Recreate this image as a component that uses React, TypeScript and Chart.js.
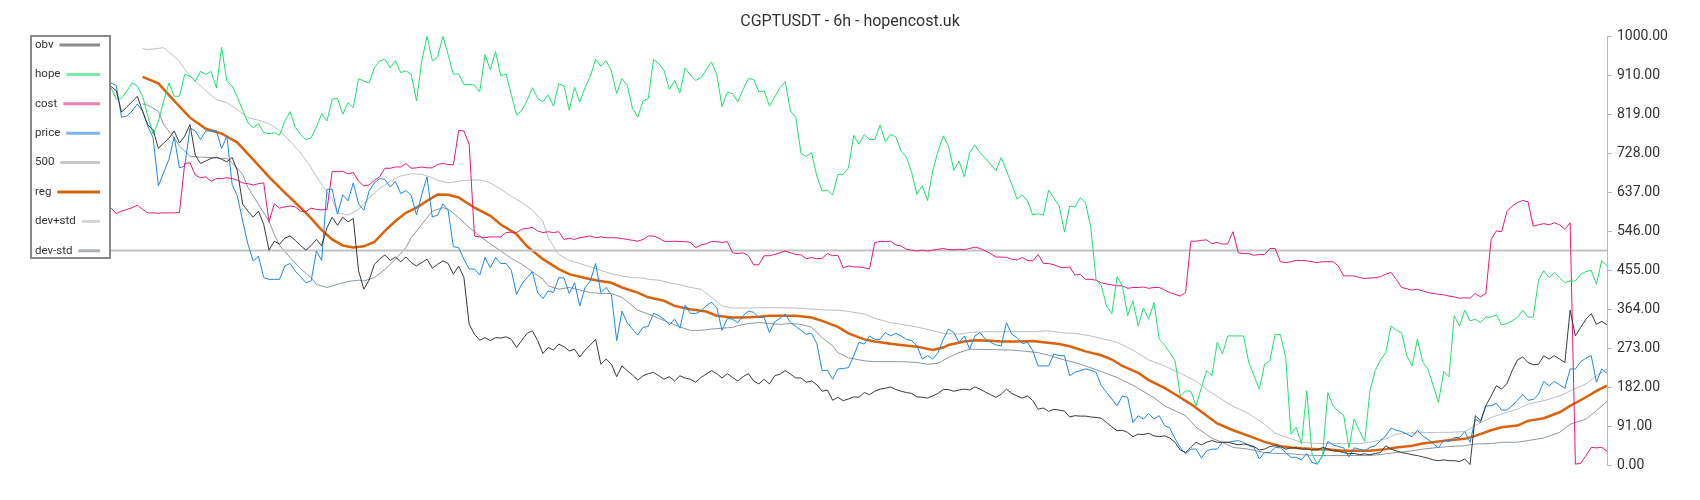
import React, { useEffect, useRef } from 'react';
import { Chart, registerables } from 'chart.js';

Chart.register(...registerables);

const TITLE = 'CGPTUSDT - 6h - hopencost.uk';

const yTickLabels = ['0.00', '91.00', '182.00', '273.00', '364.00', '455.00', '546.00', '637.00', '728.00', '819.00', '910.00', '1000.00'];

const refLevel = 500;

const obv = [
  883, 873, 823, 835, 847, 860, 825, 793, 782, 738, 751, 762, 779, 751, 767, 794, 723, 703, 709, 715, 718, 713, 707, 717, 686, 608, 592, 578, 592, 561, 501, 522, 515,
  529, 534, 524, 512, 501, 512, 526, 511, 553, 578, 559, 578, 567, 575, 453, 410, 431, 468, 480, 490, 477, 485, 474, 485, 472, 464, 472, 480, 459, 468, 476, 470,
  445, 464, 437, 328, 305, 291, 297, 290, 297, 296, 299, 293, 274, 291, 307, 313, 290, 260, 274, 268,
  282, 276, 266, 270, 252, 268, 280, 293, 235, 247, 235, 206, 231, 220, 210, 198, 208, 213, 216, 208,
  200, 206, 196, 208, 203, 200, 193, 204, 212, 220, 213, 203, 213, 204, 196, 206, 213, 196, 189, 200,
  189, 208, 212, 220, 212, 203, 203, 193, 196, 187, 172, 175, 151, 158, 150, 154,
  159, 158, 169, 164, 172, 177, 179, 182, 176, 172, 169, 167, 159, 158, 156, 161, 167, 176, 176, 172, 175, 177, 175, 182, 177, 170, 164, 158, 165,
  177, 167, 161, 156, 161, 150, 130, 133, 125, 130, 128, 126, 112, 115, 114, 114, 112, 111, 109, 99, 89, 80, 81, 76, 66, 72, 71, 74, 68, 66,
  68, 63, 53, 35, 29, 41, 53, 47, 53, 57, 53, 53, 53, 50, 47, 49, 47, 43,
  35, 37, 43, 45, 43, 37, 40, 40, 37, 37, 35, 35, 41, 38, 33, 32, 29, 26, 27, 24, 26, 24, 27, 29, 45, 37, 33, 29, 27, 24,
  22, 19, 16, 12, 10, 12, 10, 10, 8, 14, 1, 115, 103, 138, 161, 185, 177, 190, 220, 245, 252, 239, 234, 235, 255, 247, 255, 247, 239, 361,
  301, 321, 340, 353, 328, 335, 327,
];

const hope = [
  880, 853, 855, 872, 891, 884, 860, 814, 771, 802, 849, 891, 860, 860, 911, 907, 895, 918, 911, 918, 880, 974, 895, 884, 858, 827, 798, 787, 796, 775,
  773, 775, 769, 802, 824, 787, 771, 759, 763, 788, 819, 802, 853, 855, 818, 845, 833, 901, 895, 891, 926, 942, 946, 926, 943, 915, 919, 911, 849, 942,
  1000, 943, 951, 1000, 957, 911, 912, 887, 887, 886, 870, 957, 922,
  964, 907, 912, 864, 816, 827, 850, 880, 855, 847, 863, 837, 889, 884, 827, 881, 847, 880, 907, 946,
  930, 943, 919, 866, 901, 886, 832, 811, 849, 855, 946, 936, 920, 876, 897, 868, 926, 909, 897, 903,
  922, 940, 911, 835, 870, 866, 847, 876, 901, 899, 870, 873, 837, 858, 880, 894, 825, 811, 726, 720,
  728, 674, 639, 641, 630, 678, 678, 693,
  769, 748, 771, 759, 759, 793, 754, 771, 765, 732, 718, 682, 631, 651, 617, 686, 732, 767, 744, 687,
  709, 672, 728, 746, 728, 715, 701, 686, 717, 686, 655, 620, 630, 616, 583, 586, 583, 641, 622, 604,
  544, 604, 602, 623, 612, 554, 433, 418, 371, 353, 439, 418, 348, 383, 324, 366, 340, 379, 293, 280,
  262, 243, 161, 173, 172, 138, 181, 220, 208, 286, 259, 301, 301, 301,
  301, 239, 208,
  177, 235, 243, 305, 304, 251, 72, 88, 49, 173, 26, 2, 22, 169, 138, 125, 117, 40, 107, 80,
  55, 173, 220, 245, 262, 324, 314, 309, 255, 231, 293, 241, 224, 185, 146, 218, 206, 348, 324, 361,
  336, 340, 332, 345, 345, 350, 327, 330, 336, 344, 361, 345, 345, 431, 453, 437, 449, 437, 425, 429,
  429, 445, 451, 454, 422, 477, 464,
];

const cost = [
  600, 586, 592, 596, 600, 606, 596, 588, 588, 587, 588, 588, 588, 589, 703, 705, 676, 670, 672, 662, 668, 668, 670, 668, 664, 658, 656, 653, 656, 658,
  567, 609, 599, 602, 604, 602, 592, 591, 599, 596, 595, 596,
  685, 684, 685, 679, 682, 662, 651, 653, 664, 672, 692, 692, 695, 695, 703, 692, 693, 695, 693, 693, 701, 703, 701, 700,
  780, 779, 748, 534, 532, 530, 532, 532, 532, 542, 543, 542, 550, 552, 554, 546, 542, 544, 542, 544,
  526, 529, 526, 530, 532, 534, 530, 532, 530, 530, 530, 528, 526, 524, 522, 526, 534, 534, 529, 522,
  521, 522, 521, 521, 519, 507, 513, 516, 521, 521, 519, 521, 495, 493, 495, 488, 467, 467, 488, 488,
  491, 495, 499, 495, 491, 490, 481, 484, 481, 482, 493, 488, 489, 460, 464,
  462, 462, 460, 457, 519, 521, 521, 522, 513, 511, 503, 501, 499, 501, 499, 501, 503, 505, 502, 502,
  503, 502, 505, 508, 505, 499, 493, 485, 485, 484, 480, 478, 484, 477, 476, 491, 470, 470, 467, 462,
  460, 462, 443, 445, 433, 433, 431, 425, 422, 420, 418, 418, 412, 414, 414, 415, 412, 414, 414, 408,
  402, 398, 394, 402, 522, 522, 524, 525, 516, 519, 515, 516, 544, 495, 493, 493,
  489, 491, 491, 505, 505, 474, 472, 474, 477, 477, 476, 474, 472, 474, 474, 474, 464, 441, 441, 441,
  437, 435, 436, 437, 439, 445, 449, 433, 414, 411, 408, 410, 406, 402, 400, 398, 397, 394, 392, 389,
  390, 389, 400, 392, 400, 526, 546, 544, 591, 604, 612, 617, 614, 557, 560, 563, 560, 565, 560, 550,
  565, 2, 4, 22, 41, 40, 41, 32,
];

const price = [
  891, 885, 811, 814, 825, 842, 825, 790, 763, 651, 682, 713, 765, 693, 697, 786, 779, 759, 779, 779, 780, 738, 767, 654, 627, 569, 515, 476, 487, 437,
  433, 433, 433,
  464, 470, 452, 439, 425, 429, 499, 477, 643, 643, 585, 630, 616, 658, 609, 594, 639, 658, 668, 666, 648, 661, 633, 640, 629, 583, 631, 672, 578, 583,
  609, 594,
  509, 507, 480, 457, 457, 443, 484, 460, 484, 470, 470, 454, 398, 422, 437, 451, 402, 388, 406, 402,
  437, 436, 400, 425, 371, 414, 429, 470, 402, 414, 397, 290, 359, 332, 317, 303, 321, 323, 354, 348,
  340, 327, 340, 319, 373, 354, 353, 359, 371, 380, 367, 314, 342, 340, 332, 348, 359, 356, 344, 344,
  309, 334, 342, 352, 332, 323, 314, 305, 307, 283, 220, 221, 200, 224, 225, 227,
  255,
  286, 282, 301, 293, 293, 309, 301, 307, 301, 293, 290, 278, 247, 255, 247, 262, 293, 317, 309, 286,
  301, 270, 301, 309, 293, 286, 280, 278, 332, 305, 297, 283, 286, 266, 231, 231, 231, 259, 255, 255,
  208, 216, 220, 224, 221, 216, 185, 169, 154, 138, 161, 158, 99, 115, 107, 120, 107, 115, 92, 86,
  61, 41, 26, 37, 37, 16, 33, 37, 37, 53, 53, 55, 57, 53, 45, 41,
  14, 29, 29, 41, 40, 29, 18, 18, 12, 27, 6, 2, 22, 55, 47, 43, 40, 19, 40, 37,
  33, 41, 45, 57, 68, 86, 81, 78, 72, 66, 81, 68, 60, 50, 40, 58, 55, 64, 64, 78,
  53, 107, 99, 138, 138, 144, 128, 128, 138, 151, 164, 151, 153, 165, 195, 185, 195, 187, 179, 224,
  224, 241, 249, 255, 193, 224, 214,
];

// [index, value] readings of the smooth curves
const reg = [
  [6, 905], [9, 890], [12, 849], [15, 810], [18, 784], [21, 773], [24, 752], [27, 712], [30, 672], [33, 635], [36, 600], [38, 575], [40, 548],
  [42, 526], [44, 512], [46, 507], [48, 510], [50, 520], [52, 546], [54, 569], [56, 588], [58, 600], [60, 616], [62, 631], [64, 630], [66, 624],
  [69, 600], [72, 581], [74, 561], [77, 538], [79, 510], [82, 480], [85, 457], [87, 445], [90, 436], [92, 431], [95, 425], [97, 414], [100, 402],
  [102, 391], [105, 383], [107, 371], [110, 363], [113, 358], [115, 348], [118, 344], [120, 344], [123, 346], [125, 348], [128, 348], [130, 348],
  [133, 344], [135, 336], [138, 322], [140, 307], [143, 293], [145, 288], [148, 283], [150, 280], [153, 276], [156, 268], [158, 274], [159, 280],
  [162, 288], [164, 291], [167, 290], [169, 288], [172, 288], [175, 289], [177, 286], [180, 282], [182, 277], [185, 265], [188, 256], [190, 246],
  [192, 231], [195, 215], [197, 198], [200, 180], [202, 165], [205, 142], [207, 124], [210, 97], [213, 81], [216, 68], [219, 54], [222, 44],
  [224, 41], [226, 39], [229, 37], [231, 36], [234, 33], [237, 33], [239, 33], [242, 37], [244, 41], [247, 45], [249, 50], [252, 55], [254, 58],
  [257, 61], [259, 68], [262, 81], [264, 88], [267, 92], [269, 103], [272, 109], [275, 123], [277, 138], [280, 158], [282, 173], [284, 185],
];

const devPlus = [
  [6, 971], [7, 969], [10, 973], [11, 963], [13, 942], [14, 922], [16, 895], [18, 873], [20, 852], [22, 845], [24, 829], [26, 810], [28, 804],
  [30, 796], [32, 780], [34, 755], [36, 728], [38, 693], [40, 654], [42, 620], [43, 588], [45, 583], [47, 596], [49, 623], [51, 645], [53, 662],
  [55, 674], [57, 679], [59, 678], [61, 670], [62, 664], [64, 658], [66, 662], [68, 664], [70, 665], [72, 658], [74, 643], [76, 627], [78, 612],
  [80, 594], [82, 569], [83, 530], [85, 491], [87, 477], [89, 470], [91, 462], [93, 454], [95, 446], [97, 441], [99, 437], [101, 436], [102, 433],
  [104, 431], [106, 425], [108, 420], [110, 414], [112, 410], [114, 391], [116, 371], [118, 366], [120, 366], [125, 367], [130, 366], [135, 362],
  [138, 361], [140, 358], [143, 352], [145, 342], [148, 332], [150, 328], [153, 322], [156, 313], [158, 307], [161, 305], [163, 309], [166, 311],
  [175, 311], [178, 313], [181, 308], [183, 307], [186, 301], [188, 295], [191, 286], [194, 268], [197, 245], [200, 231], [203, 214], [206, 195],
  [209, 168], [211, 152], [213, 137], [216, 120], [219, 95], [221, 74], [224, 61], [226, 53], [229, 50], [234, 50], [237, 50], [239, 53], [242, 61],
  [244, 72], [247, 75], [252, 76], [254, 76], [257, 78], [259, 92], [262, 111], [264, 119], [267, 130], [269, 142], [272, 150], [275, 161],
  [277, 173], [280, 189], [282, 208], [284, 224],
];

const devMinus = [
  [6, 842], [7, 839], [9, 825], [10, 794], [12, 763], [13, 744], [15, 720], [17, 718], [19, 717], [21, 715], [22, 715], [23, 705], [25, 678],
  [26, 647], [28, 608], [30, 569], [31, 538], [32, 512], [34, 484], [36, 458], [38, 437], [39, 421], [41, 414], [43, 421], [45, 428], [47, 431],
  [48, 429], [50, 437], [52, 456], [54, 480], [56, 507], [57, 530], [59, 561], [61, 592], [63, 600], [64, 597], [66, 577], [68, 554], [70, 534],
  [72, 516], [74, 499], [76, 482], [78, 468], [80, 451], [82, 433], [83, 418], [85, 410], [87, 414], [89, 408], [91, 402], [93, 400], [95, 400],
  [97, 391], [99, 371], [100, 361], [102, 352], [104, 342], [106, 332], [108, 322], [110, 314], [112, 314], [114, 317], [116, 319], [118, 321],
  [119, 325], [121, 330], [123, 332], [125, 330], [127, 328], [129, 330], [131, 328], [133, 321], [135, 297], [137, 278], [138, 262], [140, 250],
  [143, 243], [145, 241], [150, 241], [153, 239], [155, 235], [157, 237], [159, 251], [161, 262], [163, 270], [168, 269], [171, 268], [173, 266],
  [176, 262], [178, 256], [181, 245], [183, 239], [185, 231], [188, 218], [191, 204], [194, 186], [198, 157], [200, 138], [204, 115], [206, 88],
  [209, 62], [211, 53], [213, 41], [216, 37], [219, 29], [221, 27], [224, 26], [226, 24], [229, 22], [239, 22], [242, 26], [244, 29], [247, 33],
  [249, 37], [252, 41], [254, 43], [257, 45], [259, 49], [262, 50], [264, 53], [267, 53], [269, 57], [272, 63], [275, 76], [277, 95], [280, 107],
  [282, 127], [284, 148],
];

const lastIndex = price.length - 1;

const fromValues = (arr: number[]) => arr.map((v, i) => ({ x: i, y: v }));
const fromPairs = (arr: number[][]) => arr.map(([x, y]) => ({ x, y }));

const legendPlugin = {
  id: 'boxLegend',
  afterDraw(chart: any) {
    const ctx = chart.ctx;
    const left = 22;
    const top = 27;
    const w = 81;
    const h = 224;
    ctx.save();
    ctx.fillStyle = '#ffffff';
    ctx.fillRect(left, top, w, h);
    ctx.strokeStyle = '#888888';
    ctx.lineWidth = 2;
    ctx.strokeRect(left + 1, top + 1, w - 2, h - 2);
    ctx.font = '11.5px Roboto';
    ctx.textBaseline = 'middle';
    ctx.textAlign = 'left';
    chart.data.datasets.forEach((ds: any, k: number) => {
      const y = top + 10 + k * 29.4;
      ctx.fillStyle = '#333333';
      ctx.fillText(ds.label, left + 5, y);
      const tw = ctx.measureText(ds.label).width;
      ctx.strokeStyle = ds.legendColor;
      ctx.lineWidth = 3;
      ctx.beginPath();
      ctx.moveTo(left + 5 + tw + 6, y);
      ctx.lineTo(left + 70, y);
      ctx.stroke();
    });
    ctx.restore();
  },
};

export default function App() {
  const ref = useRef<HTMLCanvasElement | null>(null);

  useEffect(() => {
    if (!ref.current) return;
    Chart.defaults.font.family = 'Roboto';
    const axisColor = '#b3bbc1';
    const chart = new Chart(ref.current, {
      type: 'line',
      data: {
        datasets: [
          { label: 'obv', data: fromValues(obv), borderColor: '#3a3a3a', legendColor: '#8c8c8c', borderWidth: 1 } as any,
          { label: 'hope', data: fromValues(hope), borderColor: '#1fe070', legendColor: '#80e9a8', borderWidth: 1 } as any,
          { label: 'cost', data: fromValues(cost), borderColor: '#e8197c', legendColor: '#ee7eb3', borderWidth: 1 } as any,
          { label: 'price', data: fromValues(price), borderColor: '#1e88e5', legendColor: '#7db6ee', borderWidth: 1 } as any,
          { label: '500', data: [{ x: 0, y: refLevel }, { x: lastIndex, y: refLevel }], borderColor: '#c2c2c2', legendColor: '#c8c8c8', borderWidth: 2 } as any,
          { label: 'reg', data: fromPairs(reg), borderColor: '#d9620a', legendColor: '#d4620c', borderWidth: 2.5 } as any,
          { label: 'dev+std', data: fromPairs(devPlus), borderColor: '#b9c0c5', legendColor: '#d3d7da', borderWidth: 1 } as any,
          { label: 'dev-std', data: fromPairs(devMinus), borderColor: '#8c98a0', legendColor: '#aab3b8', borderWidth: 1 } as any,
        ],
      },
      options: {
        animation: false,
        responsive: true,
        maintainAspectRatio: false,
        layout: { padding: { left: 0, right: 0, top: 0, bottom: 27 } },
        elements: { point: { radius: 0 }, line: { tension: 0, fill: false } },
        plugins: {
          legend: { display: false },
          tooltip: { enabled: false },
          title: {
            display: true,
            text: TITLE,
            color: '#333333',
            font: { family: 'Roboto', size: 16, weight: 'normal' },
            padding: { top: 4, bottom: 5 },
          },
        },
        scales: {
          x: { type: 'linear', min: -19.55, max: lastIndex, display: false },
          y: {
            position: 'right',
            min: 0,
            max: 1000,
            afterFit: (scale: any) => {
              scale.width = 85;
            },
            afterBuildTicks: (scale: any) => {
              scale.ticks = yTickLabels.map((_, i) => ({ value: (i * 1000) / (yTickLabels.length - 1) }));
            },
            ticks: {
              autoSkip: false,
              color: '#333333',
              font: { family: 'Roboto', size: 14 },
              padding: 5,
              callback: (_v: any, i: number) => yTickLabels[i],
            },
            grid: { drawOnChartArea: false, drawTicks: true, tickLength: 5, color: axisColor },
            border: { color: axisColor, width: 1 },
          },
        },
      } as any,
      plugins: [legendPlugin],
    });
    return () => chart.destroy();
  }, []);

  return (
    <div style={{ position: 'relative', width: '100%', height: '484px' }}>
      <canvas ref={ref} />
    </div>
  );
}
